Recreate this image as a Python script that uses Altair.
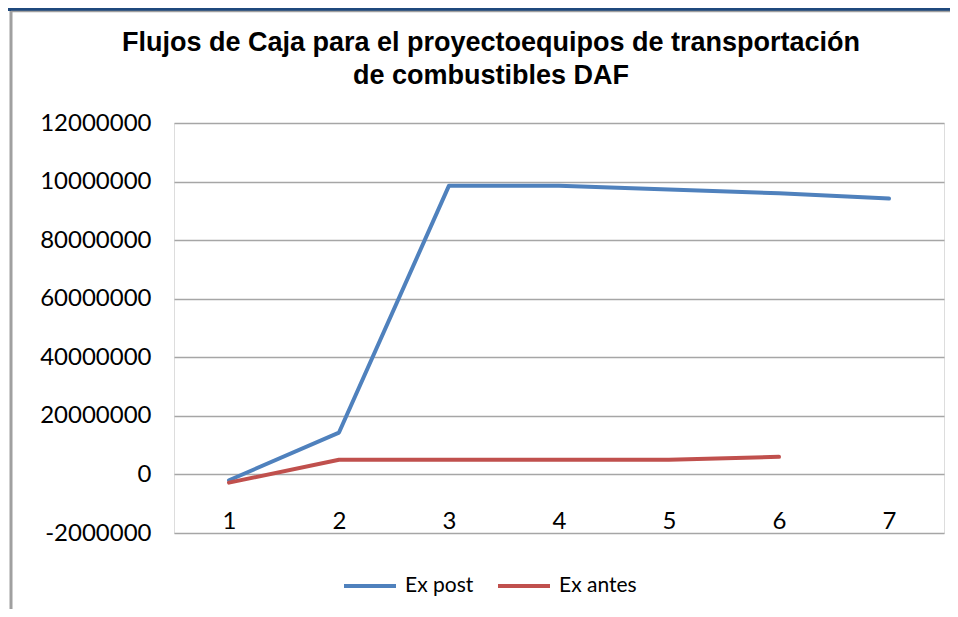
import altair as alt
import pandas as pd

periods = [1, 2, 3, 4, 5, 6, 7]
ex_post = [-2000000, 14300000, 98600000, 98600000, 97300000, 96000000, 94200000]
ex_antes = [-2800000, 5000000, 5000000, 5000000, 5000000, 6000000, None]
series_names = ["Ex post", "Ex antes"]
series_colors = ["#4F81BD", "#C0504D"]
y_ticks = [-20000000, 0, 20000000, 40000000, 60000000, 80000000, 100000000, 120000000]
y_tick_labels = ["-2000000", "0", "20000000", "40000000", "60000000", "80000000", "10000000", "12000000"]
title_lines = ["Flujos de Caja para el proyectoequipos de transportación", "de combustibles DAF"]

rows = []
for p, v in zip(periods, ex_post):
    rows.append({"periodo": p, "serie": "Ex post", "valor": v})
for p, v in zip(periods, ex_antes):
    if v is not None:
        rows.append({"periodo": p, "serie": "Ex antes", "valor": v})
df = pd.DataFrame(rows)

label_expr = " : ".join(
    f"datum.value == {v} ? '{l}'" for v, l in zip(y_ticks, y_tick_labels)
) + " : datum.label"

W, H = 770, 410

lines = alt.Chart(df).mark_line(strokeWidth=4, strokeCap="round", strokeJoin="round").encode(
    x=alt.X("periodo:O", title=None,
            scale=alt.Scale(paddingOuter=0.5),
            axis=alt.Axis(labelAngle=0, domain=False, ticks=False, grid=False,
                          offset=-58, labelPadding=34, labelFont="Lato",
                          labelFontSize=24, labelColor="#000000")),
    y=alt.Y("valor:Q", title=None,
            scale=alt.Scale(domain=[-20000000, 120000000], nice=False, zero=False),
            axis=alt.Axis(values=y_ticks, labelExpr=label_expr, domain=False, ticks=False,
                          labelPadding=23, labelFont="Lato", labelFontSize=24,
                          labelColor="#000000", gridColor="#A6A6A6", gridWidth=1.5)),
    color=alt.Color("serie:N", title=None,
                    scale=alt.Scale(domain=series_names, range=series_colors),
                    legend=alt.Legend(orient="none", legendX=168, legendY=435,
                                      direction="horizontal", symbolType="stroke",
                                      symbolSize=2704, symbolStrokeWidth=4,
                                      labelFont="Lato", labelFontSize=21,
                                      labelColor="#000000", labelOffset=7,
                                      columnPadding=16)),
)

frame = alt.Chart(pd.DataFrame({"k": [0]})).mark_rule(color="#A0A0A0", strokeWidth=3).encode(
    x=alt.value(-163), y=alt.value(-113), y2=alt.value(486)
)
topband = alt.Chart(pd.DataFrame({"k": [0]})).mark_rule(color="#1F497D", strokeWidth=4).encode(
    x=alt.value(-166), x2=alt.value(776), y=alt.value(-114)
)
topgrey = alt.Chart(pd.DataFrame({"k": [0]})).mark_rule(color="#A0A0A0", strokeWidth=1.5).encode(
    x=alt.value(-163), x2=alt.value(776), y=alt.value(-111.5)
)

chart = alt.layer(lines, frame, topband, topgrey).properties(
    width=W, height=H,
    title=alt.TitleParams(text=title_lines, font="Liberation Sans", fontSize=27,
                          fontWeight="bold", color="#000000", lineHeight=33,
                          anchor="middle", frame="group", dx=-68, offset=-83),
    autosize=alt.AutoSizeParams(type="none"),
    padding={"left": 166, "top": 115, "right": 6, "bottom": 76},
).configure_view(stroke=None).configure(background="#FFFFFF")

chart.save("out.html", embed_options={"renderer": "svg", "actions": False})
